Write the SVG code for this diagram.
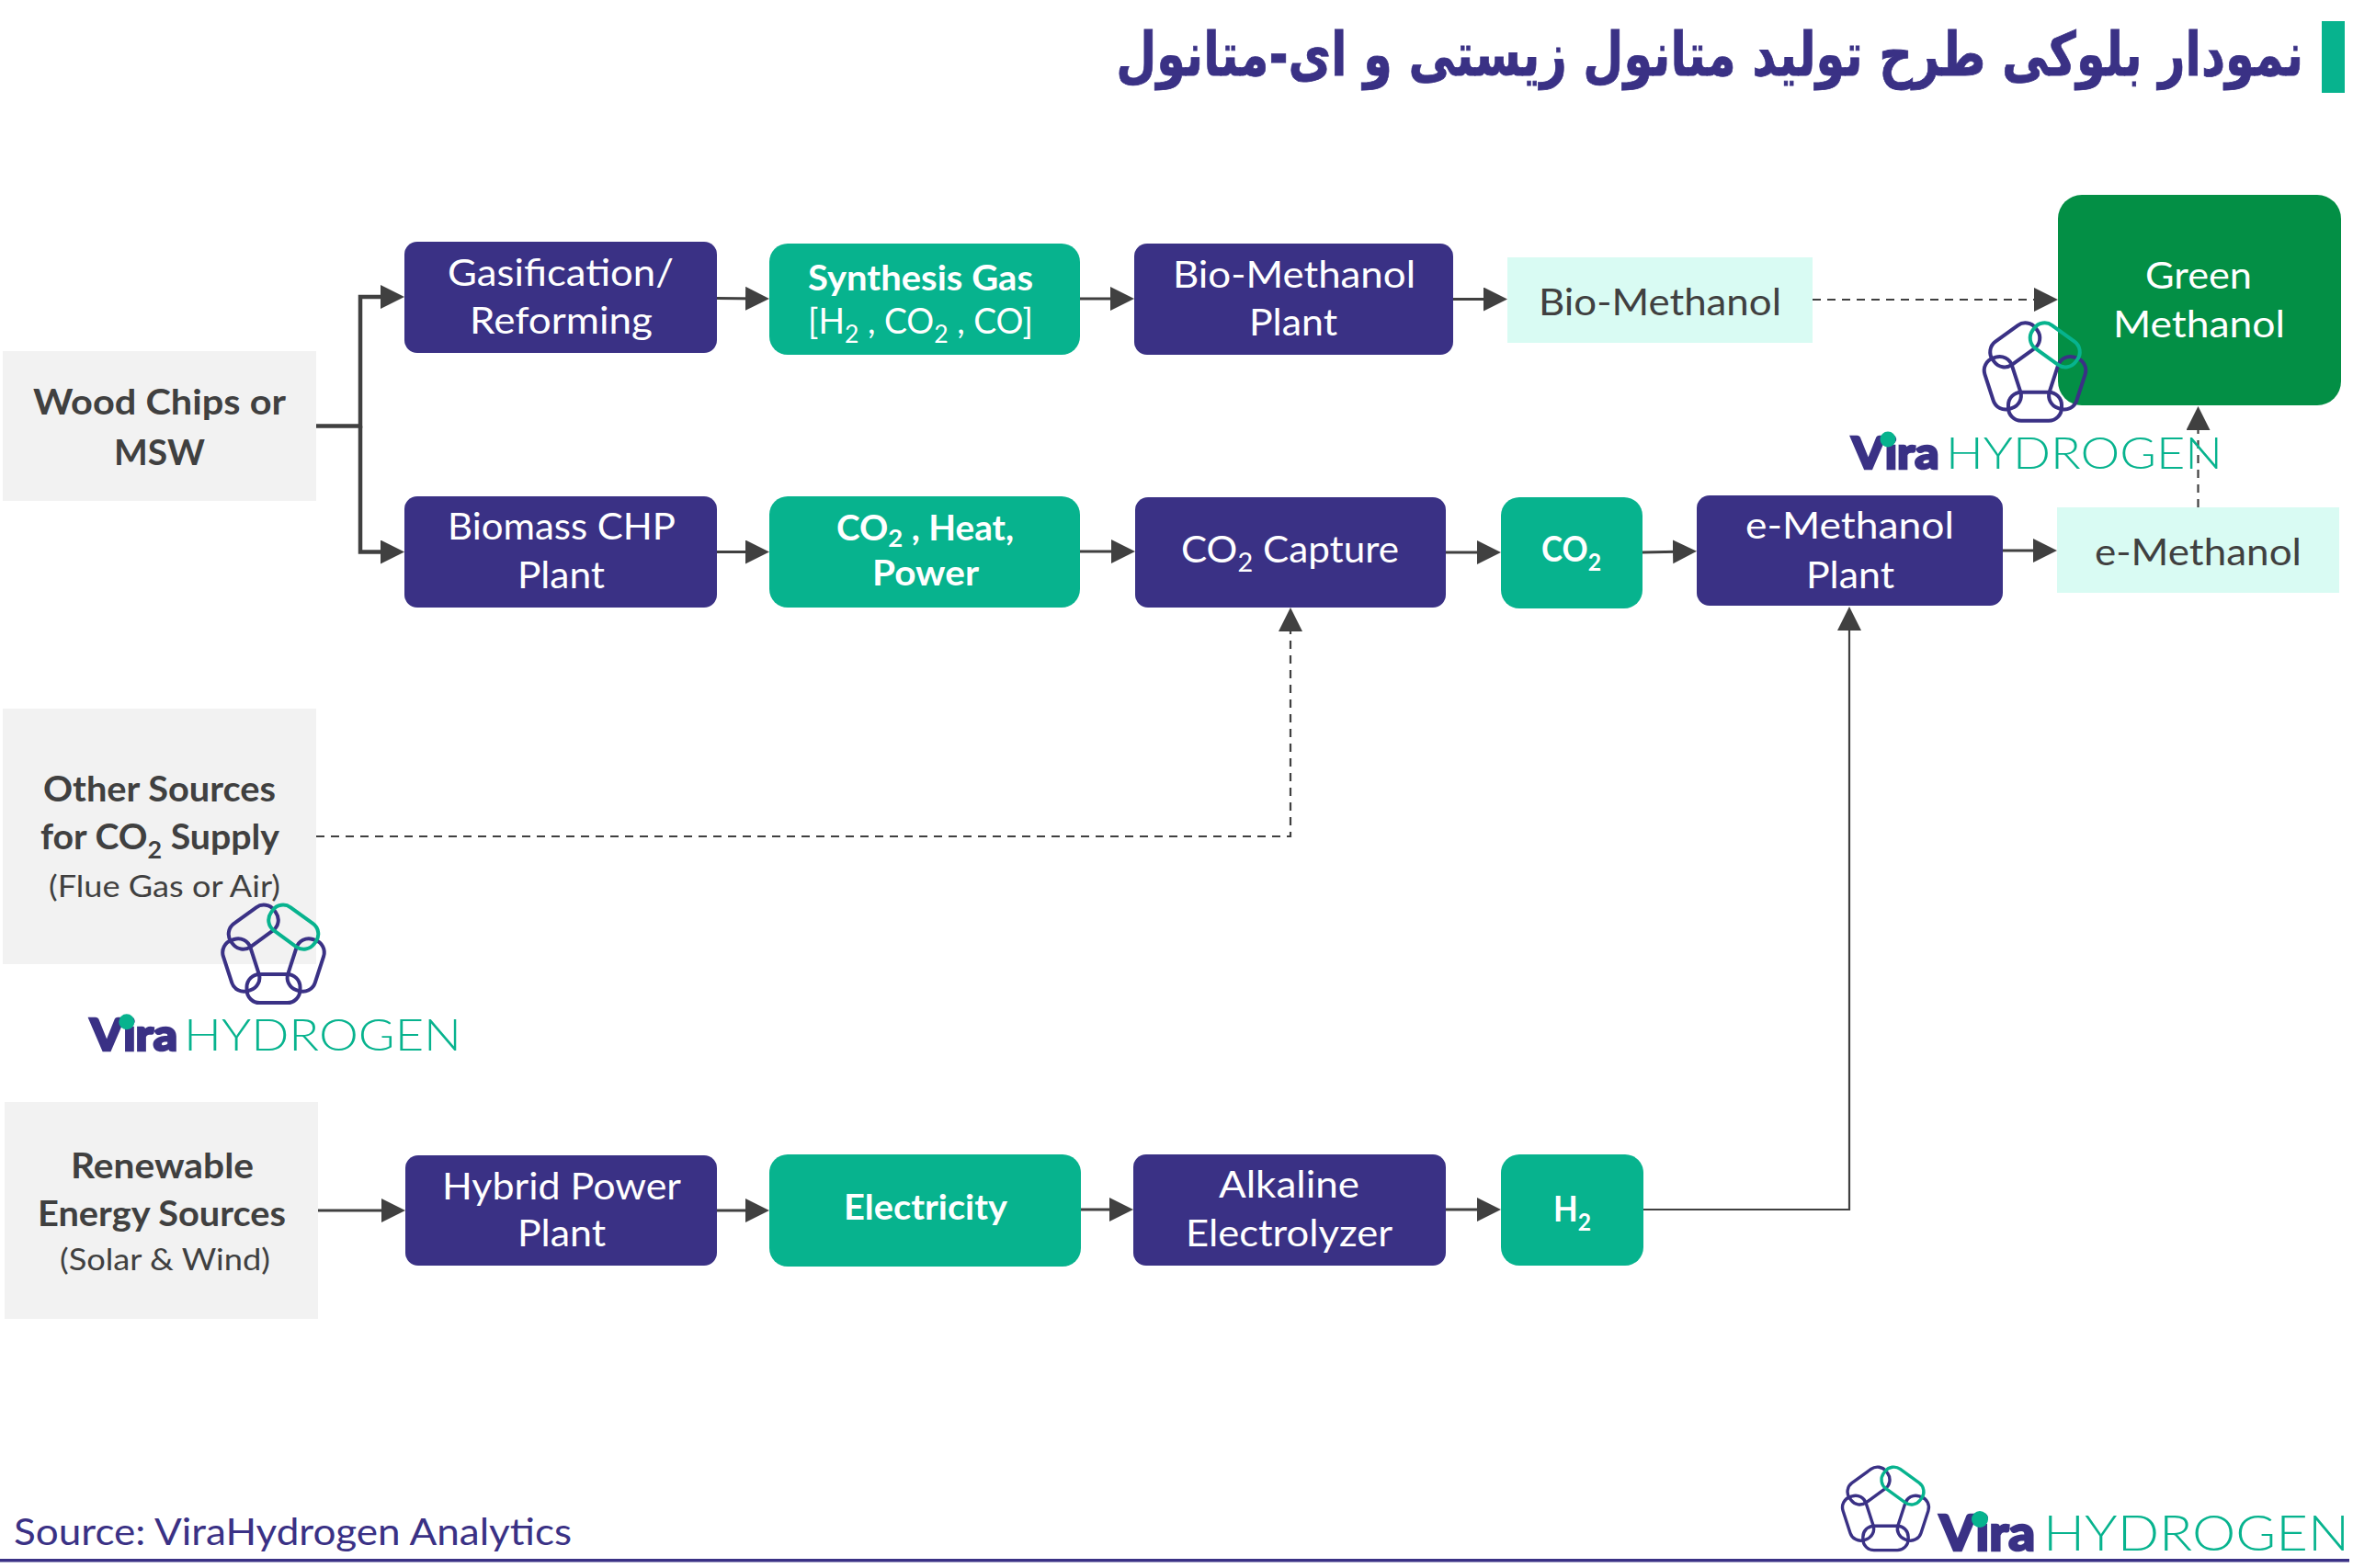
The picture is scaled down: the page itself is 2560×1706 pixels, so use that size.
<svg xmlns="http://www.w3.org/2000/svg" xmlns:xlink="http://www.w3.org/1999/xlink" width="2560" height="1706" viewBox="0 0 2560 1706">
<style>
text{font-family:"Lato","Open Sans","Liberation Sans",sans-serif;font-size:41px;fill:#fff}
.b{font-weight:700}
.d{fill:#404040}
.s{font-size:33px}
.bs{font-size:38px}
.navy{fill:#3A3185}
.teal{fill:#07B38E}
.gray{fill:#F2F2F2}
.mint{fill:#D9FBF3}
.c{fill:none;stroke:#404040;stroke-width:3}
.dash{stroke-dasharray:9 7;stroke-width:2.2}
.lk{fill:none;stroke:#3A3185;stroke-width:4}
.lkt{fill:none;stroke:#07B38E;stroke-width:4}
.vira{font-weight:900;fill:#3A3185;stroke:#3A3185;stroke-width:2.5;font-size:48px}
.hyd{font-weight:300;fill:#07B38E;font-size:48px}
</style>
<defs>
<marker id="ah" markerUnits="userSpaceOnUse" markerWidth="28" markerHeight="28" refX="16" refY="13" orient="auto"><path d="M0 0L26 13L0 26Z" fill="#404040"/></marker>
<g id="rings">
<rect class="lk" x="-29" y="21.5" width="58" height="31" rx="14"/>
<rect class="lk" x="-29" y="21.5" width="58" height="31" rx="14" transform="rotate(-72)"/>
<rect class="lk" x="-29" y="21.5" width="58" height="31" rx="14" transform="rotate(72)"/>
<rect class="lk" x="-29" y="21.5" width="58" height="31" rx="14" transform="rotate(144)"/>
<rect class="lkt" x="-29" y="21.5" width="58" height="31" rx="14" transform="rotate(-144)"/>
</g>
</defs>
<rect width="2560" height="1706" fill="#fff"/>

<g id="title">
<rect class="teal" x="2526" y="23" width="25" height="78"/>
<text transform="translate(2506 82) scale(.77 1)" x="0" y="0" direction="rtl" style="font-family:'DejaVu Sans',sans-serif;font-weight:700;font-size:66px;fill:#3A3185;stroke:#3A3185;stroke-width:.8">نمودار بلوکی طرح تولید متانول زیستی و ای-متانول</text>
</g>

<g id="connectors">
<path class="c" style="stroke-width:4.5" d="M344 463.5H392V323H430" marker-end="url(#ah)"/>
<path class="c" style="stroke-width:4.5" d="M392 463.5V600.500H430" marker-end="url(#ah)"/>
<path class="c" d="M780 324.500L827 325" marker-end="url(#ah)"/>
<path class="c" d="M1175 325H1224" marker-end="url(#ah)"/>
<path class="c" d="M1581 325.500H1630" marker-end="url(#ah)"/>
<path class="c dash" d="M1972 326H2229" marker-end="url(#ah)"/>
<path class="c" d="M780 600.500H827" marker-end="url(#ah)"/>
<path class="c" d="M1175 600H1225" marker-end="url(#ah)"/>
<path class="c" d="M1573 601H1623" marker-end="url(#ah)"/>
<path class="c" d="M1787 601L1836 600" marker-end="url(#ah)"/>
<path class="c" d="M2179 599H2228" marker-end="url(#ah)"/>
<path class="c dash" d="M2391.500 552V452" marker-end="url(#ah)"/>
<path class="c dash" d="M344 910H1404V671" marker-end="url(#ah)"/>
<path class="c" d="M346 1317H431" marker-end="url(#ah)"/>
<path class="c" d="M780 1317H827" marker-end="url(#ah)"/>
<path class="c" d="M1176 1316H1223" marker-end="url(#ah)"/>
<path class="c" d="M1573 1316H1623" marker-end="url(#ah)"/>
<path class="c" style="stroke-width:2.200" d="M1788 1316H2012V670" marker-end="url(#ah)"/>
</g>

<g id="wood"><rect class="gray" x="3" y="382" width="341" height="163"/>
<text class="b d bs" x="36" y="451" textLength="275" lengthAdjust="spacingAndGlyphs">Wood Chips or</text>
<text class="b d bs" x="124" y="506" textLength="99" lengthAdjust="spacingAndGlyphs">MSW</text></g>
<g id="other"><rect class="gray" x="3" y="771" width="341" height="278"/>
<text class="b d bs" x="47" y="872" textLength="253" lengthAdjust="spacingAndGlyphs">Other Sources</text>
<text class="b d bs" x="44" y="924" textLength="260" lengthAdjust="spacingAndGlyphs">for CO<tspan dy="10" style="font-size:26px">2</tspan><tspan dy="-10"> Supply</tspan></text>
<text class="d s" x="53" y="976" textLength="252" lengthAdjust="spacingAndGlyphs">(Flue Gas or Air)</text></g>
<g id="renewable"><rect class="gray" x="5" y="1199" width="341" height="236"/>
<text class="b d bs" x="77" y="1282" textLength="199" lengthAdjust="spacingAndGlyphs">Renewable</text>
<text class="b d bs" x="41" y="1334" textLength="270" lengthAdjust="spacingAndGlyphs">Energy Sources</text>
<text class="d s" x="65" y="1382" textLength="229" lengthAdjust="spacingAndGlyphs">(Solar &amp; Wind)</text></g>

<g id="gasification"><rect class="navy" x="440" y="263" width="340" height="121" rx="14"/>
<text x="487" y="311" textLength="246" lengthAdjust="spacingAndGlyphs">Gasification/</text>
<text x="511" y="363" textLength="199" lengthAdjust="spacingAndGlyphs">Reforming</text></g>
<g id="biomass"><rect class="navy" x="440" y="540" width="340" height="121" rx="14"/>
<text x="487" y="587" textLength="248" lengthAdjust="spacingAndGlyphs">Biomass CHP</text>
<text x="563" y="640" textLength="95" lengthAdjust="spacingAndGlyphs">Plant</text></g>
<g id="hybrid"><rect class="navy" x="441" y="1257" width="339" height="120" rx="14"/>
<text x="481" y="1305" textLength="260" lengthAdjust="spacingAndGlyphs">Hybrid Power</text>
<text x="563" y="1356" textLength="96" lengthAdjust="spacingAndGlyphs">Plant</text></g>

<g id="syngas"><rect class="teal" x="837" y="265" width="338" height="121" rx="20"/>
<text class="b bs" x="879" y="316" textLength="245" lengthAdjust="spacingAndGlyphs">Synthesis Gas</text>
<text class="bs" x="879" y="363" textLength="245" lengthAdjust="spacingAndGlyphs">[H<tspan dy="10" style="font-size:27px">2</tspan><tspan dy="-10"> , CO</tspan><tspan dy="10" style="font-size:27px">2</tspan><tspan dy="-10"> , CO]</tspan></text></g>
<g id="co2heat"><rect class="teal" x="837" y="540" width="338" height="121" rx="20"/>
<text class="b bs" x="910" y="588" textLength="193" lengthAdjust="spacingAndGlyphs">CO<tspan dy="7" style="font-size:27px">2</tspan><tspan dy="-7"> , Heat,</tspan></text>
<text class="b bs" x="949" y="637" textLength="116" lengthAdjust="spacingAndGlyphs">Power</text></g>
<g id="electricity"><rect class="teal" x="837" y="1256" width="339" height="122" rx="20"/>
<text class="b bs" x="918" y="1327" textLength="178" lengthAdjust="spacingAndGlyphs">Electricity</text></g>

<g id="biomethanol-plant"><rect class="navy" x="1234" y="265" width="347" height="121" rx="14"/>
<text x="1276" y="313" textLength="264" lengthAdjust="spacingAndGlyphs">Bio-Methanol</text>
<text x="1359" y="365" textLength="96" lengthAdjust="spacingAndGlyphs">Plant</text></g>
<g id="co2capture"><rect class="navy" x="1235" y="541" width="338" height="120" rx="14"/>
<text x="1285" y="612" textLength="237" lengthAdjust="spacingAndGlyphs">CO<tspan dy="10" style="font-size:28px">2</tspan><tspan dy="-10"> Capture</tspan></text></g>
<g id="alkaline"><rect class="navy" x="1233" y="1256" width="340" height="121" rx="14"/>
<text x="1326" y="1303" textLength="153" lengthAdjust="spacingAndGlyphs">Alkaline</text>
<text x="1290" y="1356" textLength="225" lengthAdjust="spacingAndGlyphs">Electrolyzer</text></g>

<g id="biomethanol"><rect class="mint" x="1640" y="280" width="332" height="93"/>
<text class="d" x="1674" y="343" textLength="264" lengthAdjust="spacingAndGlyphs">Bio-Methanol</text></g>
<g id="co2"><rect class="teal" x="1633" y="541" width="154" height="121" rx="20"/>
<text class="b bs" x="1677" y="611" textLength="65" lengthAdjust="spacingAndGlyphs">CO<tspan dy="10" style="font-size:27px">2</tspan></text></g>
<g id="h2"><rect class="teal" x="1633" y="1256" width="155" height="121" rx="20"/>
<text class="b bs" x="1690" y="1329" textLength="41" lengthAdjust="spacingAndGlyphs">H<tspan dy="10" style="font-size:27px">2</tspan></text></g>
<g id="emethanol-plant"><rect class="navy" x="1846" y="539" width="333" height="120" rx="14"/>
<text x="1899" y="586" textLength="227" lengthAdjust="spacingAndGlyphs">e-Methanol</text>
<text x="1965" y="640" textLength="96" lengthAdjust="spacingAndGlyphs">Plant</text></g>
<g id="emethanol"><rect class="mint" x="2238" y="552" width="307" height="93"/>
<text class="d" x="2279" y="615" textLength="225" lengthAdjust="spacingAndGlyphs">e-Methanol</text></g>
<g id="green-methanol"><rect x="2239" y="212" width="308" height="229" rx="26" fill="#038F45"/>
<text x="2334" y="314" textLength="116" lengthAdjust="spacingAndGlyphs">Green</text>
<text x="2299" y="367" textLength="187" lengthAdjust="spacingAndGlyphs">Methanol</text></g>

<g id="logo-top">
<use xlink:href="#rings" href="#rings" transform="translate(2214 405.300)"/>
<text class="vira" x="2014.500" y="509.500" textLength="95" lengthAdjust="spacingAndGlyphs">Vira</text>
<circle class="teal" cx="2054" cy="478" r="8.500"/>
<text class="hyd" x="2117" y="509.500" textLength="301" lengthAdjust="spacingAndGlyphs">HYDROGEN</text>
</g>
<g id="logo-mid">
<use xlink:href="#rings" href="#rings" transform="translate(297.500 1038.600)"/>
<text class="vira" x="98" y="1143" textLength="95" lengthAdjust="spacingAndGlyphs">Vira</text>
<circle class="teal" cx="137.800" cy="1111.800" r="8.500"/>
<text class="hyd" x="200" y="1143" textLength="302" lengthAdjust="spacingAndGlyphs">HYDROGEN</text>
</g>
<g id="logo-bottom">
<use xlink:href="#rings" href="#rings" transform="translate(2051.500 1642) scale(.85)"/>
<text class="vira" x="2110" y="1687" textLength="104" lengthAdjust="spacingAndGlyphs" style="font-size:54px">Vira</text>
<circle class="teal" cx="2154" cy="1653" r="9"/>
<text class="hyd" x="2223" y="1687" textLength="333" lengthAdjust="spacingAndGlyphs" style="font-size:54px">HYDROGEN</text>
</g>

<g id="footer">
<text x="15" y="1681" textLength="607" lengthAdjust="spacingAndGlyphs" style="fill:#3A3185">Source: ViraHydrogen Analytics</text>
<rect class="navy" x="0" y="1696" width="2556" height="3.500"/>
</g>
</svg>
